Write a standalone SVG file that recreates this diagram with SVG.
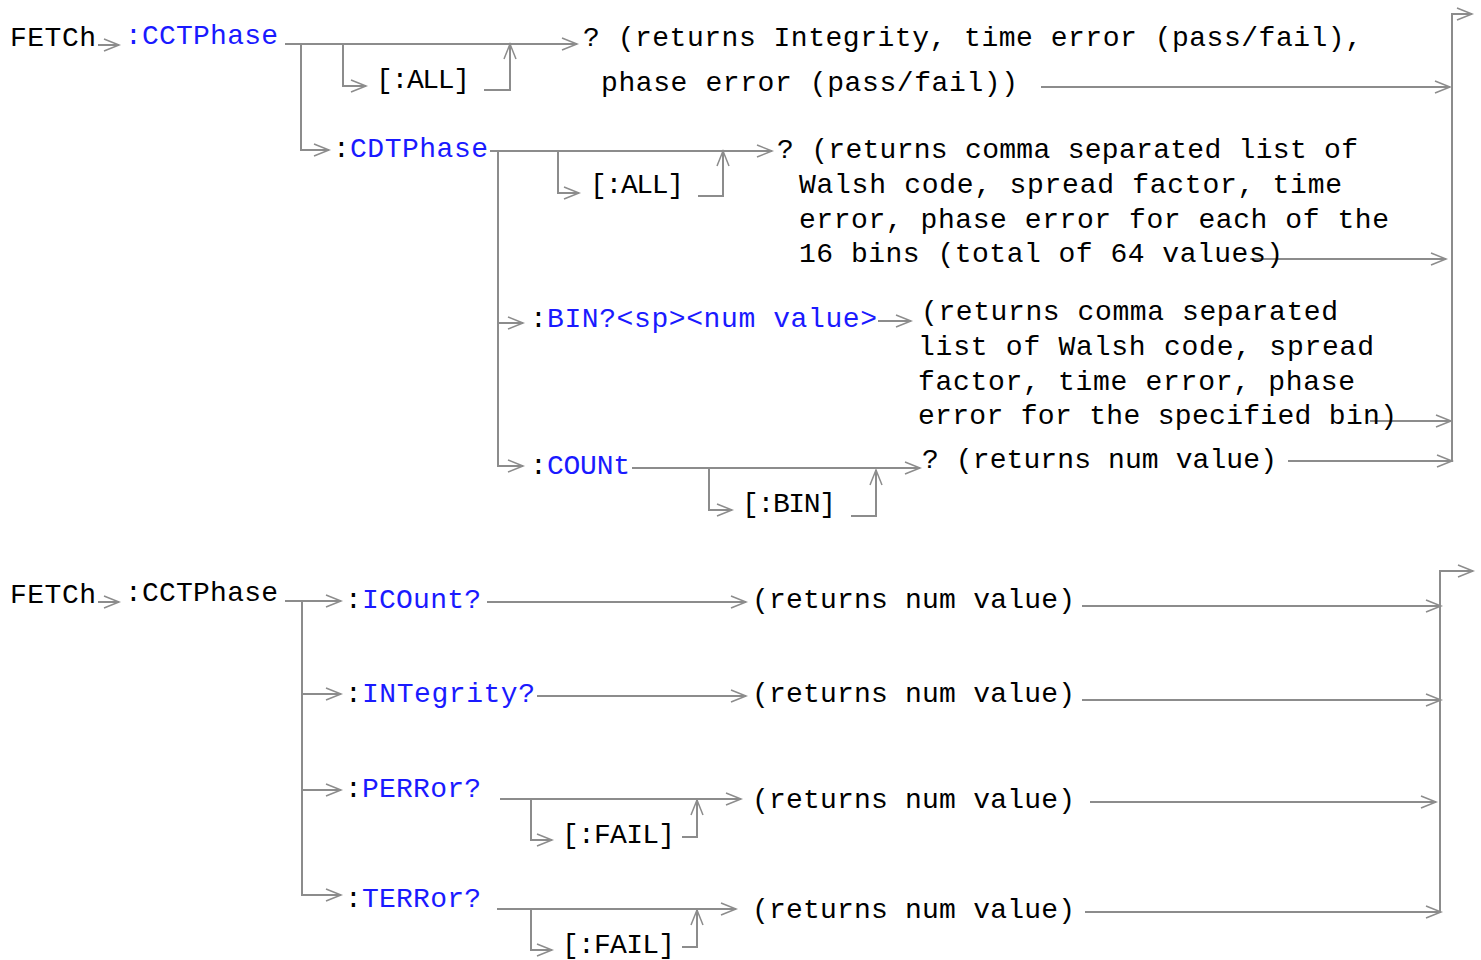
<svg xmlns="http://www.w3.org/2000/svg" width="1481" height="960" viewBox="0 0 1481 960">
<style>
text{font-family:"Liberation Mono","Courier New",monospace;font-size:28px;fill:#000}
.b{fill:#1a1aff}
.c{fill:none;stroke:#8c8c8c;stroke-width:2}
.a{marker-end:url(#ah)}
</style>
<defs>
<marker id="ah" markerUnits="userSpaceOnUse" markerWidth="20" markerHeight="16" refX="16" refY="7" orient="auto">
<path d="M1,1 L16,7 L1,13" fill="none" stroke="#8c8c8c" stroke-width="1.5"/>
</marker>
</defs>
<rect width="1481" height="960" fill="#fff"/>
<g id="connectors">
<!-- top section -->
<path class="c a" d="M98,45 H119"/>
<path class="c a" d="M285,44 H577"/>
<path class="c a" d="M301,44 V150 H329"/>
<path class="c a" d="M343,44 V86 H366"/>
<path class="c a" d="M484,90 H510 V44"/>
<path class="c a" d="M1041,87 H1450"/>
<path class="c a" d="M1452,462 V14 H1472"/>
<path class="c a" d="M490,151 H772"/>
<path class="c a" d="M498,151 V323 H523"/>
<path class="c a" d="M498,323 V466 H523"/>
<path class="c a" d="M558,151 V193 H579"/>
<path class="c a" d="M698,196 H723 V151"/>
<path class="c a" d="M1250,259 H1446"/>
<path class="c a" d="M878,321 H911"/>
<path class="c a" d="M1370,421 H1451"/>
<path class="c a" d="M632,468 H920"/>
<path class="c a" d="M709,468 V510 H732"/>
<path class="c a" d="M851,516 H876 V470"/>
<path class="c a" d="M1288,461 H1452"/>
<!-- bottom section -->
<path class="c a" d="M98,602 H119"/>
<path class="c a" d="M285,601 H341"/>
<path class="c" d="M302,601 V896"/>
<path class="c a" d="M302,694 H341"/>
<path class="c a" d="M302,790 H341"/>
<path class="c a" d="M302,895 H341"/>
<path class="c a" d="M487,602 H746"/>
<path class="c a" d="M537,696 H746"/>
<path class="c a" d="M500,799 H741"/>
<path class="c a" d="M531,800 V840 H552"/>
<path class="c a" d="M682,837 H697 V800"/>
<path class="c a" d="M497,909 H736"/>
<path class="c a" d="M531,910 V950 H552"/>
<path class="c a" d="M682,947 H697 V910"/>
<path class="c a" d="M1082,606 H1441"/>
<path class="c a" d="M1082,700 H1441"/>
<path class="c a" d="M1090,802 H1436"/>
<path class="c a" d="M1085,912 H1441"/>
<path class="c a" d="M1440,912 V571 H1473"/>
</g>
<g id="top-fetch"><text x="10" y="46" textLength="86" lengthAdjust="spacing">FETCh</text></g>
<g id="top-cctphase"><text class="b" x="125" y="44" textLength="153" lengthAdjust="spacing">:CCTPhase</text></g>
<g id="top-all1"><text x="376" y="88" textLength="94" lengthAdjust="spacing">[:ALL]</text></g>
<g id="top-ret1">
<text x="583" y="46" textLength="779" lengthAdjust="spacing">? (returns Integrity, time error (pass/fail),</text>
<text x="601" y="91" textLength="417" lengthAdjust="spacing">phase error (pass/fail))</text>
</g>
<g id="cdtphase"><text x="333" y="157">:</text><text class="b" x="350" y="157" textLength="138" lengthAdjust="spacing">CDTPhase</text></g>
<g id="top-all2"><text x="590" y="193" textLength="94" lengthAdjust="spacing">[:ALL]</text></g>
<g id="cdt-ret">
<text x="777" y="158" textLength="581" lengthAdjust="spacing">? (returns comma separated list of</text>
<text x="799" y="193" textLength="543" lengthAdjust="spacing">Walsh code, spread factor, time</text>
<text x="799" y="228" textLength="590" lengthAdjust="spacing">error, phase error for each of the</text>
<text x="799" y="262" textLength="484" lengthAdjust="spacing">16 bins (total of 64 values)</text>
</g>
<g id="bin"><text x="530" y="327">:</text><text class="b" x="547" y="327" textLength="330" lengthAdjust="spacing">BIN?&lt;sp&gt;&lt;num value&gt;</text></g>
<g id="bin-ret">
<text x="921" y="320" textLength="417" lengthAdjust="spacing">(returns comma separated</text>
<text x="918" y="355" textLength="456" lengthAdjust="spacing">list of Walsh code, spread</text>
<text x="918" y="390" textLength="437" lengthAdjust="spacing">factor, time error, phase</text>
<text x="918" y="424" textLength="479" lengthAdjust="spacing">error for the specified bin)</text>
</g>
<g id="count"><text x="530" y="474">:</text><text class="b" x="547" y="474" textLength="83" lengthAdjust="spacing">COUNt</text></g>
<g id="count-bin"><text x="742" y="512" textLength="94" lengthAdjust="spacing">[:BIN]</text></g>
<g id="count-ret"><text x="922" y="468" textLength="355" lengthAdjust="spacing">? (returns num value)</text></g>
<g id="bot-fetch"><text x="10" y="603" textLength="86" lengthAdjust="spacing">FETCh</text></g>
<g id="bot-cctphase"><text x="125" y="601" textLength="153" lengthAdjust="spacing">:CCTPhase</text></g>
<g id="icount"><text x="345" y="608">:</text><text class="b" x="362" y="608" textLength="119" lengthAdjust="spacing">ICOunt?</text></g>
<g id="integrity"><text x="345" y="702">:</text><text class="b" x="362" y="702" textLength="173" lengthAdjust="spacing">INTegrity?</text></g>
<g id="perror"><text x="345" y="797">:</text><text class="b" x="362" y="797" textLength="119" lengthAdjust="spacing">PERRor?</text></g>
<g id="terror"><text x="345" y="907">:</text><text class="b" x="362" y="907" textLength="119" lengthAdjust="spacing">TERRor?</text></g>
<g id="perror-fail"><text x="562" y="843" textLength="113" lengthAdjust="spacing">[:FAIL]</text></g>
<g id="terror-fail"><text x="562" y="953" textLength="113" lengthAdjust="spacing">[:FAIL]</text></g>
<g id="icount-ret"><text x="752" y="608" textLength="323" lengthAdjust="spacing">(returns num value)</text></g>
<g id="integrity-ret"><text x="752" y="702" textLength="323" lengthAdjust="spacing">(returns num value)</text></g>
<g id="perror-ret"><text x="752" y="808" textLength="323" lengthAdjust="spacing">(returns num value)</text></g>
<g id="terror-ret"><text x="752" y="918" textLength="323" lengthAdjust="spacing">(returns num value)</text></g>
</svg>
